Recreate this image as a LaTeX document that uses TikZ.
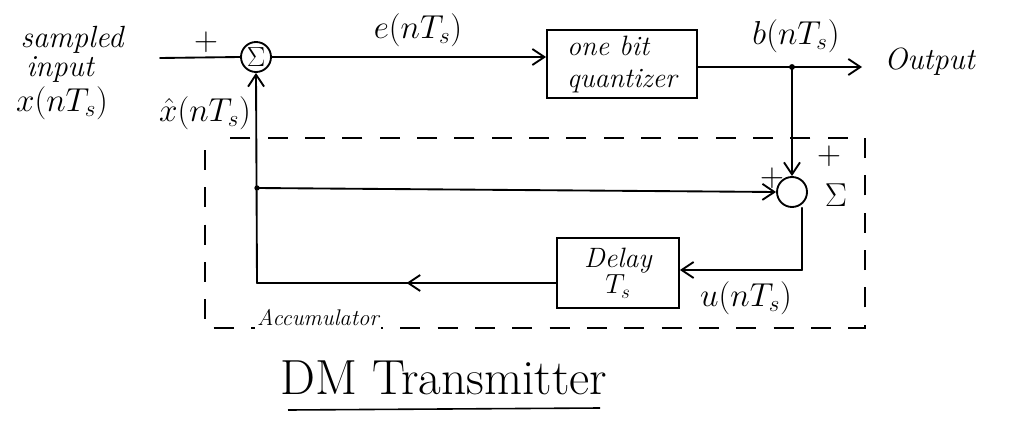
\documentclass[tikz,border=0pt]{standalone}
\usetikzlibrary{arrows.meta,calc}
\newcommand\hwsize{\fontsize{23}{26}\selectfont}
\begin{document}
\begin{tikzpicture}[x=0.75pt,y=-0.75pt,
  wire/.style={line width=1.4pt,line cap=round},
  flow/.style={wire,-{Straight Barb[length=9pt,width=12pt]}},
  sumnode/.style={draw,line width=1.4pt,circle,minimum size=30*0.75pt,inner sep=0pt,font=\fontsize{22}{24}\selectfont},
  block/.style={draw,line width=1.4pt,inner sep=1pt,font=\fontsize{21}{24}\selectfont\itshape},
  lbl/.style={font=\hwsize,inner sep=0pt},
  sgn/.style={font=\fontsize{24}{26}\selectfont,inner sep=0pt}]
\useasboundingbox (0,0) rectangle (1009,428);

% input and first summer
\node[lbl,font=\hwsize\itshape] (l1) at (72,40) {sampled};
\node[lbl,font=\hwsize\itshape] (l2) at (60,70) {input};
\node[lbl] (l3) at (62,103) {$x(nT_s)$};
\coordinate (in) at (160,58);
\node[sumnode] (s1) at (256,57) {$\Sigma$};
\draw[wire] (in) -- (s1.west);
\node[sgn] at (206,42) {$+$};

% quantizer and output
\node[block,minimum width=150*0.75pt,minimum height=68*0.75pt,align=left] (q) at (622,64) {one bit\\quantizer};
\draw[flow] (s1.east) -- (s1.east -| q.west);
\node[lbl] at (418,30) {$e(nT_s)$};
\coordinate (jn) at (792,67);
\coordinate (out) at (862,67);
\draw[flow] (q.east |- jn) -- (out);
\node[lbl] at (796,36) {$b(nT_s)$};
\node[lbl,font=\hwsize\itshape,anchor=west] at (884,62) {Output};

% second summer of the accumulator
\node[sumnode] (s2) at (792,192) {};
\node[lbl] at (836,195) {$\Sigma$};
\node[sgn] at (829,156) {$+$};
\node[sgn] at (772,178) {$+$};
\draw[flow] (jn) -- (s2.north);
\fill (jn) circle (2.2pt);

% delay and feedback loop
\node[block,minimum width=122*0.75pt,minimum height=70*0.75pt,align=center] (d) at (618,273) {Delay\\[-4pt]$T_s$};
\coordinate (cb) at (802,270);
\coordinate (bl) at (257,283);
\coordinate (tl) at (257,188);
\draw[wire] (s2.south -| cb) -- (cb);
\draw[flow] (cb) -- (d.east |- cb);
\node[lbl] at (746,298) {$u(nT_s)$};
\draw[wire] (d.west |- bl) -- (bl);
\draw[flow] (d.west |- bl) -- ($(bl)!0.5!(d.west |- bl)$);
\draw[flow] (bl) -- (s1.south);
\draw[flow] (tl) -- (s2.west);
\fill (tl) circle (2pt);
\node[lbl] at (205,113) {$\hat{x}(nT_s)$};

% accumulator boundary
\draw[line width=1.1pt,dash pattern=on 15pt off 13pt] (205,150) -- (205,328) -- (865,328) -- (865,138) -- (220,138);
\node[font=\fontsize{17}{20}\selectfont\itshape,fill=white,inner sep=2pt] (acc) at (318,318) {Accumulator};

% title
\node[font=\fontsize{37}{42}\selectfont] (title) at (444,378) {DM Transmitter};
\draw[line width=1.2pt] (288,410) -- (600,408);
\end{tikzpicture}
\end{document}
